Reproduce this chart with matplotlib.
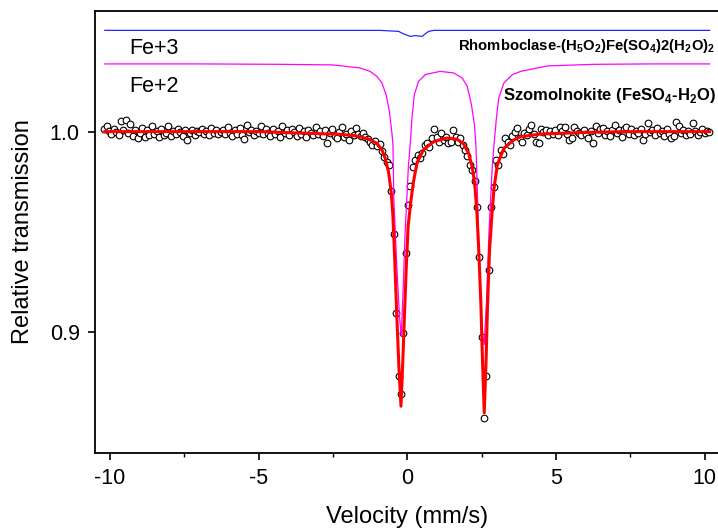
import numpy as np
import matplotlib
matplotlib.use("Agg")
import matplotlib.pyplot as plt
from matplotlib.ticker import MultipleLocator

plt.rcParams['font.family'] = ['Liberation Sans', 'DejaVu Sans']
plt.rcParams['mathtext.fontset'] = 'custom'
plt.rcParams['mathtext.rm'] = 'Liberation Sans'
plt.rcParams['mathtext.bf'] = 'Liberation Sans:bold'
plt.rcParams['axes.unicode_minus'] = False

# measured spectrum: 256 channels, velocity in mm/s
v_start, v_end = -10.185, 10.164
trans = [
    1.0015, 1.0030, 1.0005, 0.9990, 1.0012, 0.9998, 0.9985, 1.0055, 1.0008, 1.0056,
    0.9992, 1.0040, 0.9978, 1.0010, 0.9968, 0.9995, 1.0020, 0.9975, 1.0008, 0.9982,
    1.0028, 0.9990, 1.0003, 0.9972, 1.0015, 0.9985, 0.9995, 1.0030, 0.9978, 1.0005,
    0.9990, 1.0012, 0.9996, 0.9980, 1.0008, 0.9958, 0.9995, 1.0010, 0.9985, 1.0002,
    0.9998, 1.0015, 0.9990, 1.0005, 0.9982, 1.0020, 0.9995, 1.0008, 0.9988, 1.0000,
    1.0010, 0.9986, 1.0025, 0.9995, 0.9978, 1.0006, 0.9990, 1.0018, 0.9984, 0.9962,
    1.0035, 0.9996, 1.0010, 0.9982, 1.0005, 0.9992, 1.0028, 0.9986, 1.0012, 0.9995,
    0.9980, 1.0015, 0.9990, 1.0002, 0.9975, 1.0030, 0.9993, 1.0008, 0.9985, 1.0012,
    0.9996, 0.9980, 1.0018, 0.9990, 1.0005, 0.9975, 1.0010, 0.9994, 0.9982, 1.0022,
    0.9988, 1.0002, 0.9978, 1.0010, 0.9945, 0.9992, 1.0015, 0.9980, 0.9968, 0.9996,
    1.0022, 0.9975, 0.9990, 0.9960, 1.0005, 0.9982, 1.0018, 0.9990, 0.9978, 0.9995,
    0.9972, 0.9962, 0.9948, 0.9935, 0.9952, 0.9928, 0.9936, 0.9905, 0.9876, 0.9850,
    0.9834, 0.9703, 0.9491, 0.9095, 0.8783, 0.8692, 0.8999, 0.9395, 0.9635, 0.9728,
    0.9826, 0.9859, 0.9884, 0.9870, 0.9892, 0.9934, 0.9942, 0.9925, 0.9967, 1.0013,
    0.9975, 0.9950, 0.9992, 0.9960, 0.9975, 0.9942, 0.9950, 1.0008, 0.9975, 0.9950,
    0.9967, 0.9934, 0.9909, 0.9880, 0.9836, 0.9811, 0.9753, 0.9623, 0.9377, 0.8979,
    0.8576, 0.8783, 0.9310, 0.9625, 0.9725, 0.9861, 0.9835, 0.9910, 0.9888, 0.9969,
    0.9950, 0.9934, 0.9978, 1.0000, 1.0017, 0.9967, 0.9950, 0.9992, 0.9985, 1.0012,
    1.0033, 0.9990, 0.9950, 0.9942, 1.0015, 0.9996, 1.0010, 0.9982, 1.0004, 0.9990,
    1.0008, 0.9985, 1.0025, 1.0003, 1.0025, 0.9988, 0.9959, 0.9970, 1.0022, 1.0005,
    0.9995, 0.9982, 1.0010, 0.9990, 0.9968, 1.0002, 0.9942, 1.0028, 0.9995, 1.0012,
    1.0020, 0.9985, 1.0005, 0.9978, 1.0010, 1.0033, 0.9995, 1.0008, 0.9975, 1.0015,
    1.0025, 0.9990, 1.0012, 0.9982, 1.0005, 0.9995, 1.0015, 0.9959, 0.9988, 1.0041,
    0.9998, 1.0010, 0.9985, 1.0018, 0.9992, 1.0005, 0.9980, 1.0012, 0.9990, 0.9967,
    0.9978, 1.0050, 1.0030, 0.9995, 1.0008, 0.9985, 1.0002, 0.9990, 1.0041, 1.0005,
    0.9985, 0.9998, 1.0012, 0.9995, 1.0005, 1.0000,
]
velocity = np.linspace(v_start, v_end, len(trans))

# total fit (red)
fit_v = [-10.17, -5.0, -3.45, -2.32, -1.76, -1.31, -1.02, -0.85, -0.74, -0.63,
         -0.54, -0.48, -0.42, -0.35, -0.28, -0.21, -0.15, -0.09, -0.03, 0.03,
         0.12, 0.21, 0.33, 0.55, 0.89, 1.34, 1.68, 1.90, 2.07, 2.19,
         2.27, 2.34, 2.41, 2.48, 2.53, 2.59, 2.65, 2.70, 2.77, 2.86,
         2.92, 3.03, 3.25, 3.59, 3.82, 4.50, 6.00, 7.40, 10.17]
fit_t = [1.0, 1.0, 0.9992, 0.9987, 0.9980, 0.9964, 0.9942, 0.9909, 0.9867, 0.9801,
         0.9701, 0.9579, 0.9363, 0.9081, 0.8831, 0.8633, 0.8849, 0.9098, 0.9330, 0.9529,
         0.9650, 0.9750, 0.9845, 0.9910, 0.9950, 0.9968, 0.9962, 0.9938, 0.9890, 0.9820,
         0.9740, 0.9605, 0.9396, 0.9131, 0.8866, 0.8600, 0.8849, 0.9131, 0.9413, 0.9610,
         0.9718, 0.9834, 0.9917, 0.9959, 0.9975, 0.9988, 0.9996, 1.0, 1.0]

# Fe+2 doublet component (magenta, shifted up)
fe2_v = [-10.17, -6.99, -4.29, -2.50, -1.59, -1.25, -1.02, -0.85, -0.71, -0.60,
         -0.52, -0.48, -0.45, -0.35, -0.26, -0.20, -0.15, -0.07, 0.04, 0.10,
         0.16, 0.24, 0.38, 0.61, 1.11, 1.56, 1.85, 2.02, 2.16, 2.26,
         2.31, 2.35, 2.43, 2.52, 2.59, 2.67, 2.75, 2.86, 2.92, 3.00,
         3.08, 3.25, 3.54, 3.82, 4.72, 6.29, 8.21, 10.17]
fe2_t = [1.0337, 1.0337, 1.0335, 1.0332, 1.0317, 1.0300, 1.0275, 1.0242, 1.0184, 1.0101,
         1.0001, 0.9935, 0.9662, 0.9330, 0.9081, 0.8982, 0.9164, 0.9498, 0.9827, 0.9935,
         1.0068, 1.0184, 1.0250, 1.0284, 1.0300, 1.0292, 1.0267, 1.0225, 1.0134, 1.0035,
         0.9935, 0.9746, 0.9330, 0.9000, 0.8940, 0.9164, 0.9498, 0.9827, 0.9935, 1.0068,
         1.0168, 1.0242, 1.0284, 1.0300, 1.0327, 1.0335, 1.0337, 1.0337]

# Fe+3 component (blue, shifted up)
fe3_v = [-10.17, -0.91, -0.29, -0.13, 0.10, 0.27, 0.50, 0.61, 0.72, 0.89, 10.17]
fe3_t = [1.0504, 1.0504, 1.0499, 1.0487, 1.0474, 1.0478, 1.0474, 1.0487, 1.0499, 1.0504, 1.0504]

fig = plt.figure(figsize=(7.18, 5.28), dpi=100)
ax = fig.add_axes([0.1323, 0.142, 0.8697, 0.837])

ax.plot(velocity, trans, 'o', ms=4.8, mfc='white', mec='black', mew=0.8, zorder=2)
ax.plot(fe2_v, fe2_t, color='#ff00ff', lw=0.9, zorder=3)
ax.plot(fe3_v, fe3_t, color='#2626ff', lw=0.9, zorder=3)
ax.plot(fit_v, fit_t, color='red', lw=2.2, zorder=4)

ax.text(-9.36, 1.0388, 'Fe+3', fontsize=15.5, va='baseline')
ax.text(-9.36, 1.0199, 'Fe+2', fontsize=15.5, va='baseline')
ax.text(1.70, 1.0408,
        r'Rhomboclase-(H$_\mathbf{5}$O$_\mathbf{2}$)Fe(SO$_\mathbf{4}$)2(H$_\mathbf{2}$O)$_\mathbf{2}$',
        fontsize=10.7, fontweight='bold', va='baseline')
ax.text(3.21, 1.0159, r'Szomolnokite (FeSO$_\mathbf{4}$-H$_\mathbf{2}$O)',
        fontsize=12, fontweight='bold', va='baseline')

ax.set_xlim(-10.5, 10.5)
ax.set_ylim(0.84, 1.06)
ax.set_xticks([-10, -5, 0, 5, 10])
ax.xaxis.set_minor_locator(MultipleLocator(2.5))
ax.set_yticks([0.9, 1.0])
ax.set_yticklabels(['0.9', '1.0'])
ax.tick_params(which='major', direction='out', length=5, width=1.2, labelsize=15.5, pad=6)
ax.tick_params(which='minor', direction='out', length=3, width=1.0)
for s in ax.spines.values():
    s.set_linewidth(1.3)

ax.set_xlabel('Velocity (mm/s)', fontsize=17, labelpad=12)
ax.set_ylabel('Relative transmission', fontsize=17, labelpad=11)

fig.savefig('out.png', dpi=100)
